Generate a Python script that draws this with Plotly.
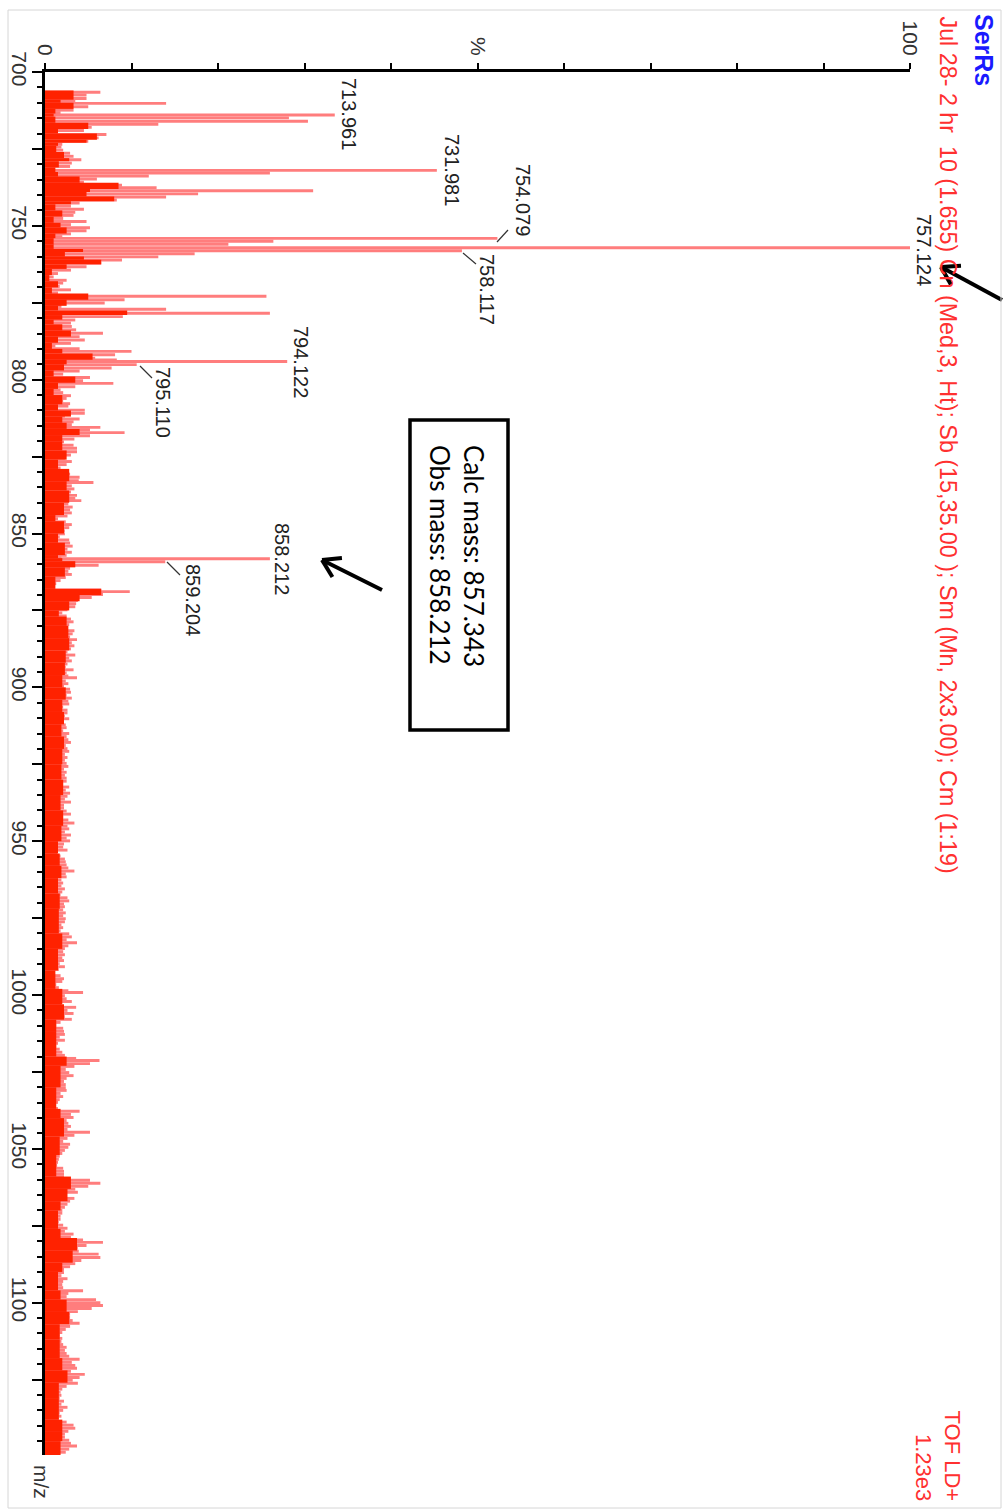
import math
import plotly.graph_objects as go

# ---------------- data ----------------
# light-red spectrum lines: m/z and relative intensity (%)
mz_a = [706.6, 707.5, 708.6, 709.4, 710.2, 711.3, 712.4, 713.2, 713.96, 714.9,
        716.0, 717.0, 718.0, 719.0, 720.3, 721.4, 722.5, 723.5, 724.4, 725.4,
        726.4, 727.4, 728.5, 729.6, 730.7, 731.98, 732.8, 733.8, 734.8, 735.8,
        736.8, 737.6, 738.6, 739.6, 740.6, 741.6, 742.6, 743.6, 744.6, 745.6,
        746.6, 747.6, 748.6, 749.6, 750.6, 751.6, 752.6, 753.5, 754.08, 755.0,
        756.0, 757.12, 758.12, 759.1]
pct_a = [6.4, 4.8, 4.8, 3.5, 14.0, 5.0, 3.3, 1.8, 33.5, 28.2,
         30.4, 13.1, 5.4, 4.5, 7.1, 6.2, 5.0, 2.0, 1.9, 2.1,
         2.9, 3.3, 4.2, 3.1, 2.9, 45.3, 26.0, 12.0, 6.0, 4.5,
         8.9, 12.9, 31.0, 17.7, 14.0, 8.3, 4.0, 3.0, 4.5, 3.5,
         3.3, 2.1, 4.8, 3.0, 5.2, 4.8, 3.0, 2.0, 52.3, 26.4,
         21.2, 100.0, 48.2, 17.3]

mz_b = [760.1, 761.1, 762.2, 763.3, 764.4, 765.5, 766.6, 767.7, 768.6, 769.7,
        770.8, 771.8, 772.9, 774.0, 775.1, 776.2, 777.1, 778.4, 779.5, 780.6,
        781.6, 782.7, 783.8, 784.9, 786.0, 787.1, 788.2, 789.0, 789.9, 790.8,
        791.9, 793.0, 793.6, 794.12, 795.11, 796.2, 797.2, 798.2, 799.3, 800.3,
        801.2, 802.3, 803.3, 804.2, 805.2]
pct_b = [13.1, 8.9, 6.5, 4.8, 3.0, 1.5, 1.0, 2.5, 2.1, 1.7,
         3.0, 1.5, 25.6, 9.2, 6.9, 1.9, 14.0, 26.0, 9.0, 3.5,
         3.0, 3.1, 3.6, 6.7, 4.0, 4.6, 3.0, 1.2, 4.0, 10.0,
         8.1, 5.8, 8.3, 28.0, 10.6, 7.7, 4.0, 2.1, 5.2, 4.4,
         7.9, 3.5, 1.8, 2.1, 3.0]

mz_c = [806.1, 806.9, 807.8, 808.6, 809.9, 810.9, 811.9, 812.8, 813.7, 814.6,
        815.5, 816.3, 817.2, 818.2, 819.3, 820.2, 821.3, 822.3, 823.4, 824.5,
        825.5, 826.6, 827.6, 828.7, 829.6, 830.7, 831.7, 832.8, 833.4, 834.5,
        835.5, 836.5, 837.6, 838.6, 839.3, 840.4, 841.4, 842.3, 843.3, 844.3,
        845.2, 846.2, 847.1, 848.1, 849.1, 850.1, 851.1, 852.1, 853.1, 854.1,
        855.1, 856.1, 857.1, 857.9, 858.21, 859.2]
pct_c = [2.5, 2.1, 2.9, 2.7, 4.6, 4.6, 2.3, 4.0, 3.3, 3.1,
         6.4, 5.2, 9.2, 5.2, 3.4, 2.2, 3.3, 3.7, 3.7, 3.0,
         2.3, 3.1, 2.5, 1.8, 1.9, 2.9, 4.0, 3.9, 5.6, 3.1,
         3.4, 3.0, 3.7, 3.5, 4.2, 2.7, 3.2, 2.9, 3.1, 2.6,
         1.5, 2.4, 3.1, 2.8, 2.3, 2.3, 1.7, 2.8, 2.9, 3.2,
         2.6, 3.1, 2.5, 1.9, 26.0, 13.9]

mz_d = [860.3, 861.3, 862.3, 863.3, 864.3, 865.3, 866.3, 867.3, 868.3, 868.9,
        869.8, 870.8, 871.8, 872.8, 873.8, 874.8, 875.8, 876.8, 877.8, 878.7,
        879.6, 880.6, 881.6, 882.6, 883.6, 884.5, 885.5, 886.5, 887.5, 888.5,
        889.5, 890.5, 891.4, 892.4, 893.4, 894.3, 895.3, 896.3, 896.9, 897.9,
        898.8, 899.7, 900.6, 901.6, 902.6, 903.5, 904.5, 905.4, 906.4, 907.4,
        908.3, 909.3, 910.2, 911.2, 912.2, 913.1, 914.1, 915.0, 916.0, 917.0,
        917.9, 918.9, 919.9, 920.8, 921.8, 922.8, 923.7, 924.7, 925.7, 926.6,
        927.6, 928.6, 929.5, 930.5, 931.5, 932.4, 933.4, 934.4]
pct_d = [6.2, 2.9, 2.7, 3.1, 2.4, 1.8, 1.3, 1.1, 6.5, 9.8,
         6.7, 5.4, 3.8, 3.6, 3.5, 2.6, 2.0, 2.5, 3.0, 3.3,
         2.8, 2.6, 3.4, 3.2, 2.9, 3.7, 3.1, 3.4, 3.0, 2.6,
         3.5, 2.8, 3.1, 2.6, 2.4, 3.3, 2.5, 2.7, 3.7, 2.4,
         2.7, 2.2, 2.9, 3.0, 2.5, 3.1, 2.7, 2.8, 2.1, 2.6,
         2.6, 2.3, 2.8, 2.2, 2.4, 2.5, 2.1, 2.8, 2.5, 2.7,
         3.0, 2.4, 2.6, 2.8, 2.3, 2.6, 2.3, 2.5, 2.7, 2.2,
         2.5, 2.3, 2.5, 2.5, 2.1, 2.8, 2.4, 2.9]

mz_e = [935.4, 936.3, 937.3, 938.3, 939.2, 940.2, 941.2, 942.2, 943.1, 944.1,
        945.1, 946.0, 947.0, 948.0, 949.0, 949.9, 950.9, 951.9, 952.9, 953.8,
        954.8, 955.8, 956.7, 957.7, 958.7, 959.7, 960.6, 961.6, 962.6, 963.6,
        964.5, 965.5, 966.5, 967.4, 968.4, 969.4, 970.4, 971.3, 972.3, 973.3,
        974.2, 975.2, 976.2, 977.2, 978.1, 979.1, 980.1, 981.1, 982.0, 983.0,
        984.0, 984.9, 985.9, 986.9, 987.9, 988.8, 989.8, 990.8, 991.7, 992.7,
        993.7, 994.7, 995.6, 996.6, 997.6, 998.6, 999.2, 1000.2, 1001.2, 1002.1,
        1003.1, 1004.0, 1005.0, 1006.0, 1007.0, 1007.9, 1008.9, 1009.9, 1010.8, 1011.8,
        1012.8, 1013.7, 1014.7, 1015.7, 1016.7, 1017.6, 1018.6, 1019.6, 1020.6, 1021.3,
        1022.3, 1023.2, 1024.2, 1025.2, 1026.2, 1027.1, 1028.1, 1029.1, 1030.1, 1031.0,
        1032.0, 1033.0, 1034.0, 1034.9, 1035.9, 1036.9, 1037.8, 1038.8, 1039.8, 1040.8,
        1041.7, 1042.7, 1043.7, 1044.6, 1045.6, 1046.6, 1047.6, 1048.5, 1049.5]
pct_e = [2.6, 2.3, 3.0, 2.2, 2.2, 2.5, 3.0, 2.1, 2.7, 3.4,
         2.6, 2.8, 2.3, 3.0, 2.5, 2.9, 2.2, 2.1, 2.6, 1.4,
         1.8, 2.3, 2.4, 2.5, 2.7, 3.4, 2.4, 2.5, 1.9, 2.1,
         1.9, 2.3, 2.0, 1.8, 2.6, 2.8, 2.2, 2.3, 2.1, 2.4,
         2.1, 2.4, 2.3, 1.9, 2.1, 1.8, 2.8, 3.1, 2.5, 3.7,
         2.7, 2.3, 2.1, 2.3, 2.0, 2.2, 1.7, 2.3, 1.6, 1.1,
         1.8, 2.2, 2.0, 1.3, 1.6, 2.7, 4.4, 2.3, 2.5, 3.1,
         1.9, 3.6, 2.6, 3.3, 2.3, 3.1, 1.8, 1.3, 2.1, 2.2,
         2.3, 1.7, 2.3, 1.5, 1.3, 1.7, 2.0, 2.3, 3.6, 6.3,
         5.2, 3.4, 2.4, 2.8, 3.3, 2.5, 2.2, 2.4, 2.4, 2.5,
         1.8, 2.1, 1.7, 1.5, 1.2, 1.5, 4.0, 3.0, 3.3, 2.5,
         2.7, 3.0, 2.6, 5.2, 3.4, 2.6, 2.1, 2.9, 2.7]

mz_f = [1050.5, 1051.5, 1052.4, 1053.4, 1054.4, 1055.4, 1056.3, 1057.3, 1058.3, 1059.3,
        1060.2, 1061.2, 1062.2, 1063.1, 1064.1, 1065.1, 1066.1, 1067.0, 1068.0, 1069.0,
        1070.0, 1070.9, 1071.9, 1072.9, 1073.8, 1074.8, 1075.8, 1076.8, 1077.7, 1078.7,
        1079.6, 1080.4, 1081.4, 1082.3, 1083.3, 1084.2, 1085.3, 1086.3, 1087.3, 1088.3,
        1089.2, 1090.2, 1091.2, 1092.2, 1093.1, 1094.1, 1095.1, 1096.1, 1097.0, 1098.0,
        1099.0, 1100.0, 1100.9, 1101.9, 1102.9, 1103.8, 1104.8, 1105.8, 1106.7, 1107.7,
        1108.7, 1109.7, 1110.6, 1111.6, 1112.6, 1113.6, 1114.5, 1115.5, 1116.5, 1117.4,
        1118.4, 1119.4, 1120.4, 1121.3, 1122.3, 1123.3, 1124.3, 1125.2, 1126.2, 1127.2,
        1128.1, 1129.1, 1130.1, 1131.1, 1132.0, 1133.0, 1134.0, 1135.0, 1135.9, 1136.9,
        1137.9, 1138.8, 1139.8, 1140.8, 1141.8, 1142.7, 1143.7, 1144.7, 1145.7, 1146.6,
        1147.6, 1148.6, 1149.4]
pct_f = [2.3, 2.0, 1.7, 1.6, 1.5, 1.4, 2.1, 2.2, 2.2, 2.2,
         5.2, 6.4, 5.0, 3.5, 3.8, 2.5, 3.4, 2.9, 2.6, 2.3,
         2.0, 2.0, 1.8, 1.8, 1.6, 2.1, 2.6, 2.3, 3.3, 3.0,
         4.4, 6.7, 4.8, 3.8, 3.9, 6.2, 6.4, 4.2, 3.5, 2.9,
         2.2, 2.2, 1.9, 2.6, 2.1, 2.0, 2.1, 4.4, 2.7, 2.5,
         5.9, 6.4, 6.7, 5.4, 3.8, 2.9, 2.9, 3.2, 4.0, 2.9,
         2.4, 2.0, 1.7, 2.0, 1.9, 2.1, 2.5, 2.3, 2.5, 2.8,
         4.0, 3.1, 3.5, 3.7, 3.0, 4.6, 4.0, 3.2, 3.8, 2.5,
         2.0, 1.8, 1.9, 1.7, 2.2, 1.9, 2.6, 2.1, 1.7, 1.9,
         1.6, 2.5, 3.3, 3.5, 2.7, 2.3, 2.3, 2.8, 3.0, 3.7,
         2.8, 2.4, 1.7]

# dense (dark red) baseline envelope: segment edges in m/z and level in %
dark_edges = [706, 709, 710, 712, 713.5, 714.5, 716.5, 718.5, 720, 722, 723, 724, 726, 728, 729,
              731, 732.5, 734, 736, 738, 739, 740.5, 742, 743, 745, 747, 749, 750.5, 752.5, 754,
              756, 757.5, 758.5, 760, 761, 762.5, 764, 766, 768, 770, 772, 774, 776, 777.5, 779,
              780.5, 782, 784, 786, 788, 790, 791.5, 793.5, 795, 797, 799, 801, 803, 805, 808,
              810, 812, 814, 816, 818, 820, 823, 826, 829, 833, 836, 840, 844, 846, 850, 853,
              857, 858, 859, 861, 864, 868, 870, 872, 875, 877, 880, 884, 888, 892, 896, 900,
              904, 908, 912, 916, 920, 925, 930, 935, 940, 945, 950, 954, 958, 962, 967, 972,
              980, 985, 992, 998, 1003, 1008, 1012, 1020, 1023, 1030, 1037, 1040, 1046, 1052,
              1059, 1063, 1067, 1070, 1076, 1079, 1083, 1087, 1090, 1096, 1099, 1103, 1107,
              1112, 1118, 1122, 1126, 1131, 1138, 1142, 1145, 1149.5]
dark_pct = [3.3, 1.8, 3.3, 1.2, 1.0, 1.2, 5.0, 1.5, 6.0, 4.8, 1.5, 1.3, 2.2, 2.8, 1.6,
            1.2, 1.5, 4.0, 8.5, 5.2, 4.8, 8.0, 3.0, 1.2, 2.0, 1.0, 1.8, 2.5, 1.2, 1.0,
            1.0, 4.4, 2.3, 4.5, 6.5, 2.5, 0.8, 0.5, 1.5, 0.8, 5.0, 2.5, 1.5, 9.5, 2.0,
            1.0, 2.0, 3.0, 1.5, 0.8, 2.0, 5.5, 2.5, 2.2, 1.0, 3.5, 1.5, 1.0, 2.0, 1.5,
            3.0, 2.0, 2.5, 4.0, 2.0, 2.0, 2.5, 1.5, 2.8, 2.5, 2.8, 2.2, 1.2, 2.2, 1.5,
            2.3, 1.5, 2.0, 3.5, 2.3, 1.2, 6.5, 4.0, 2.8, 1.6, 2.5, 2.7, 2.8, 2.4, 2.3,
            2.0, 2.4, 2.0, 2.2, 1.9, 2.2, 2.0, 1.9, 2.1, 1.8, 2.1, 1.9, 1.5, 1.7, 1.9,
            1.5, 1.7, 1.6, 2.0, 1.5, 1.2, 2.0, 2.2, 1.3, 1.3, 2.5, 1.8, 1.3, 1.8, 2.2,
            1.7, 1.3, 3.0, 2.6, 1.8, 1.5, 1.8, 3.7, 3.2, 2.0, 1.5, 1.8, 2.5, 2.8, 1.7,
            1.7, 2.0, 2.6, 1.6, 1.6, 2.0, 2.0, 1.8]

# labelled peaks
label_mz = [713.961, 731.981, 754.079, 757.124, 758.117, 794.122, 795.110, 858.212, 859.204]

# axis ticks
mz_tickvals = [700, 725, 750, 775, 800, 825, 850, 875, 900, 925, 950, 975, 1000, 1025, 1050, 1075, 1100, 1125]
mz_ticktext = ["700", "", "750", "", "800", "", "850", "", "900", "", "950", "", "1000", "", "1050", "", "1100", ""]
int_tickvals = [0, 10, 20, 30, 40, 50, 60, 70, 80, 90, 100]
int_ticktext = ["0", "", "", "", "", "%", "", "", "", "", "100"]

header_title = "SerRs"
header_info = "Jul 28- 2 hr\u00a0\u00a010 (1.655) Cn (Med,3, Ht); Sb (15,35.00 ); Sm (Mn, 2x3.00); Cm (1:19)"
header_mode = "TOF LD+<br>1.23e3"
box_text = "Calc mass: 857.343<br>Obs mass: 858.212"

# ---------------- assemble ----------------
parts_mz = [mz_a, mz_b, mz_c, mz_d, mz_e, mz_f]
parts_pct = [pct_a, pct_b, pct_c, pct_d, pct_e, pct_f]
for m, p in zip(parts_mz, parts_pct):
    assert len(m) == len(p), (len(m), len(p))
assert len(dark_edges) == len(dark_pct) + 1
peak_mz = [v for part in parts_mz for v in part]
peak_pct = [v for part in parts_pct for v in part]
dark_y = [(a + b) / 2 for a, b in zip(dark_edges[:-1], dark_edges[1:])]
dark_w = [b - a for a, b in zip(dark_edges[:-1], dark_edges[1:])]

W, H = 1003, 1510
L, R, T, B = 45, 910, 72, 1455


def px(x):
    return (x - L) / (R - L)


def py(y):
    return (B - y) / (B - T)


SANS = "Liberation Sans, Arial, sans-serif"
LIGHT = "#ff7d7d"
DARK = "#ff2200"

fig = go.Figure()
fig.add_trace(go.Bar(orientation="h", y=peak_mz, x=peak_pct, width=0.95,
                     marker=dict(color=LIGHT, line=dict(width=0)), hoverinfo="skip"))
fig.add_trace(go.Bar(orientation="h", y=dark_y, x=dark_pct, width=dark_w,
                     marker=dict(color=DARK, line=dict(width=0)), hoverinfo="skip"))

annotations = []
shapes = []

# peak labels (centre positions in pixels)
label_pos = [(349, 114), (452, 170), (523, 200), (924, 250), (487, 290),
             (301, 362), (163, 402), (282, 559), (193, 600)]
for m, (lx, ly) in zip(label_mz, label_pos):
    annotations.append(dict(text=f"{m:.3f}", x=px(lx), y=py(ly), xref="paper", yref="paper",
                            xanchor="center", yanchor="middle", textangle=90, showarrow=False,
                            font=dict(family=SANS, size=20, color="#222")))

# leader lines
leaders = [((497, 242), (508, 230)), ((463, 253), (476, 264)),
           ((140, 366), (152, 378)), ((167, 562), (180, 575))]
for (x0, y0), (x1, y1) in leaders:
    shapes.append(dict(type="line", xref="paper", yref="paper", x0=px(x0), y0=py(y0),
                       x1=px(x1), y1=py(y1), line=dict(color="#333", width=1.2)))


def arrow(tail, head, width=4.0, head_len=20, ang=32):
    dx, dy = tail[0] - head[0], tail[1] - head[1]
    n = math.hypot(dx, dy)
    ux, uy = dx / n, dy / n
    out = [dict(type="line", xref="paper", yref="paper", x0=px(tail[0]), y0=py(tail[1]),
                x1=px(head[0]), y1=py(head[1]), line=dict(color="black", width=width))]
    for s in (1, -1):
        a = math.radians(ang) * s
        rx = ux * math.cos(a) - uy * math.sin(a)
        ry = ux * math.sin(a) + uy * math.cos(a)
        out.append(dict(type="line", xref="paper", yref="paper", x0=px(head[0]), y0=py(head[1]),
                        x1=px(head[0] + rx * head_len), y1=py(head[1] + ry * head_len),
                        line=dict(color="black", width=width)))
    return out


shapes += arrow((382, 590), (322, 560))
shapes += arrow((1002, 300), (941, 267))

# annotation box
shapes.append(dict(type="rect", xref="paper", yref="paper", x0=px(410), x1=px(508),
                   y0=py(420), y1=py(730), line=dict(color="black", width=3.5)))
annotations.append(dict(text=box_text, x=px(457), y=py(556), xref="paper", yref="paper",
                        xanchor="center", yanchor="middle", textangle=90, align="left",
                        showarrow=False, font=dict(family="Lato, Calibri, sans-serif", size=26, color="black")))

# frame
shapes.append(dict(type="rect", xref="paper", yref="paper", x0=px(8), x1=px(1001),
                   y0=py(10), y1=py(1508), line=dict(color="#d6d6d6", width=1)))

# header texts
annotations.append(dict(text=f"<b>{header_title}</b>", x=px(984), y=py(12), xref="paper", yref="paper",
                        xanchor="center", yanchor="top", textangle=90, showarrow=False,
                        font=dict(family=SANS, size=25, color="#1a1aff")))
annotations.append(dict(text=header_info, x=px(947), y=py(14), xref="paper", yref="paper",
                        xanchor="center", yanchor="top", textangle=90, showarrow=False,
                        font=dict(family=SANS, size=23.3, color="#ff3030")))
annotations.append(dict(text=header_mode, x=px(938), y=py(1503), xref="paper", yref="paper",
                        xanchor="center", yanchor="bottom", textangle=90, align="right",
                        showarrow=False, font=dict(family=SANS, size=22, color="#ff3030")))
annotations.append(dict(text="m/z", x=px(42), y=py(1501), xref="paper", yref="paper",
                        xanchor="center", yanchor="bottom", textangle=90, showarrow=False,
                        font=dict(family=SANS, size=21, color="#333")))

fig.update_layout(
    width=W, height=H,
    margin=dict(l=L, r=W - R, t=T, b=H - B, pad=0),
    paper_bgcolor="white", plot_bgcolor="white",
    barmode="overlay", showlegend=False,
    annotations=annotations, shapes=shapes,
    xaxis=dict(side="top", range=[0, 100], tickmode="array", tickvals=int_tickvals,
               ticktext=int_ticktext, ticks="outside", ticklen=6, tickwidth=2, tickcolor="black",
               showline=True, linecolor="black", linewidth=3, showgrid=False, zeroline=False,
               automargin=False, tickangle=90, tickfont=dict(family=SANS, size=21, color="#333")),
    yaxis=dict(range=[1149.5, 700], tickmode="array", tickvals=mz_tickvals, ticktext=mz_ticktext,
               ticks="outside", ticklen=10, tickwidth=2, tickcolor="black",
               showline=True, linecolor="black", linewidth=3, showgrid=False, zeroline=False,
               automargin=False, tickangle=90, ticklabelstandoff=-5,
               tickfont=dict(family=SANS, size=21, color="#333"),
               minor=dict(tick0=700, dtick=5, ticks="outside", ticklen=5, tickwidth=1.5,
                          tickcolor="black", showgrid=False)),
)

fig.write_html("out.html")
